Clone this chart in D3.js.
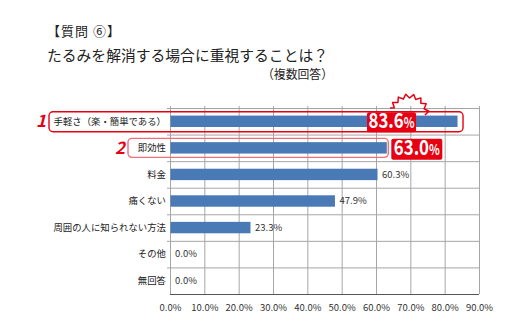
<!DOCTYPE html>
<html><head><meta charset="utf-8">
<script src="https://cdn.jsdelivr.net/npm/d3@7"></script>
<style>
body{margin:0;background:#fff;}
text{font-family:"Noto Sans CJK JP","Noto Sans",sans-serif;}
</style></head>
<body><svg id="c" width="530" height="330"></svg>
<script>
const titleLines = ["【質問 ⑥】","たるみを解消する場合に重視することは？","（複数回答）"];
const categories = ["手軽さ（楽・簡単である）","即効性","料金","痛くない","周囲の人に知られない方法","その他","無回答"];
const values = [83.6,63.0,60.3,47.9,23.3,0.0,0.0];
const valueLabels = ["83.6%","63.0%","60.3%","47.9%","23.3%","0.0%","0.0%"];
const tickValues = [0,10,20,30,40,50,60,70,80,90];
const tickLabels = ["0.0%","10.0%","20.0%","30.0%","40.0%","50.0%","60.0%","70.0%","80.0%","90.0%"];
const rankMarks = ["1","2"];

(function(){
const svg = d3.select("#c");
const red = "#e60012", barColor = "#4a7ab5", grid = "#a6a6a6";
const pL=170, pR=479, pT=108, pB=294;
const x = d3.scaleLinear().domain([0,90]).range([pL,pR]);
const y = d3.scaleBand().domain(categories).range([pT,pB]).paddingInner(0.57).paddingOuter(0.285);
const step = y.step();

// titles
svg.append("text").attr("x",47).attr("y",36).attr("font-size",13).attr("fill","#222")
  .attr("textLength",73).attr("lengthAdjust","spacing").text(titleLines[0]);
svg.append("text").attr("x",47).attr("y",61).attr("font-size",14.5).attr("fill","#222")
  .attr("textLength",281).attr("lengthAdjust","spacingAndGlyphs").text(titleLines[1]);
svg.append("text").attr("x",262).attr("y",79).attr("font-size",12.5).attr("fill","#222")
  .attr("textLength",71).attr("lengthAdjust","spacingAndGlyphs").text(titleLines[2]);

// horizontal gridlines
const g = svg.append("g");
d3.range(categories.length).forEach(i=>{
  g.append("line").attr("x1",pL-3).attr("x2",pR).attr("y1",pT+i*step+0.5).attr("y2",pT+i*step+0.5)
   .attr("stroke",grid).attr("stroke-width",1);
});
// vertical gridlines + axis labels
const axis = d3.axisBottom(x).tickValues(tickValues).tickFormat((d,i)=>tickLabels[i])
  .tickSize(-(pB-pT+2)).tickPadding(10);
const ax = svg.append("g").attr("transform",`translate(0,${pB})`).call(axis);
ax.select(".domain").remove();
ax.selectAll(".tick line").attr("stroke",grid);
ax.selectAll(".tick text").attr("font-size",9.5).attr("fill","#333").attr("font-family","'Noto Sans CJK JP',sans-serif");
svg.append("line").attr("x1",pL).attr("x2",pR).attr("y1",pB+0.5).attr("y2",pB+0.5).attr("stroke","#555");

// bars
svg.selectAll("rect.bar").data(values).join("rect").attr("class","bar")
  .attr("x",x(0)+0.5).attr("y",(d,i)=>y(categories[i]))
  .attr("width",d=>Math.max(0,x(d)-x(0))).attr("height",y.bandwidth()).attr("fill",barColor);

// category labels
svg.selectAll("text.cat").data(categories).join("text").attr("class","cat")
  .attr("x",166).attr("y",d=>y(d)+y.bandwidth()/2).attr("dy","0.35em")
  .attr("text-anchor","end").attr("font-size",9.4).attr("fill","#222").text(d=>d);

// value labels (non-highlighted)
values.forEach((v,i)=>{
  if(i<2) return;
  svg.append("text").attr("x",x(v)+5).attr("y",y(categories[i])+y.bandwidth()/2).attr("dy","0.35em")
    .attr("font-size",9.5).attr("fill","#333").text(valueLabels[i]);
});

// highlight outlines
const yc0 = y(categories[0])+y.bandwidth()/2, yc1 = y(categories[1])+y.bandwidth()/2;
svg.append("rect").attr("x",49).attr("y",yc0-9.5).attr("width",x(values[0])+6-49).attr("height",20)
  .attr("rx",4).attr("fill","none").attr("stroke",red).attr("stroke-width",1.4);
svg.append("rect").attr("x",128).attr("y",yc1-9.5).attr("width",x(values[1])+2-128).attr("height",19)
  .attr("rx",4).attr("fill","none").attr("stroke","#ee6f7a").attr("stroke-width",1.4);

// rank numbers
[[yc0,41],[yc1,120]].forEach((p,i)=>{
  svg.append("text").attr("x",p[1]).attr("y",p[0]).attr("dy","0.36em").attr("text-anchor","middle")
    .attr("font-size",17).attr("font-weight","bold").attr("font-style","italic").attr("fill",red)
    .attr("font-family","'Liberation Sans',Arial,sans-serif").text(rankMarks[i]);
});

// starburst above first highlight
const cx=409, cy=114;
const pts=[];
const a0=Math.PI*1.13, a1=Math.PI*2.02, n=14;
for(let k=0;k<=n;k++){
  const a=a0+(a1-a0)*k/n;
  const r=(k%2===0)?16:20;
  pts.push([cx+r*Math.cos(a), cy+r*Math.sin(a)]);
}
pts.unshift([cx-19,cy-6]);
svg.append("path").attr("d",d3.line()(pts)).attr("fill","none").attr("stroke",red)
  .attr("stroke-width",1.5).attr("stroke-linejoin","round");

// highlight value boxes
function valueBox(bx,by,w,h,num){
  svg.append("rect").attr("x",bx).attr("y",by).attr("width",w).attr("height",h).attr("rx",2).attr("fill",red);
  const gg=svg.append("g").attr("transform",`translate(${bx+w/2},${by+h/2}) scale(0.8,1)`);
  const t=gg.append("text").attr("x",0).attr("y",0).attr("dy","0.36em").attr("text-anchor","middle")
    .attr("fill","#fff").attr("font-weight","bold")
    .attr("font-family","'Liberation Sans Narrow','Arial Narrow','Liberation Sans',sans-serif");
  t.append("tspan").attr("font-size",21).text(num.replace("%",""));
  t.append("tspan").attr("font-size",14).text("%");
}
valueBox(x(values[0])-90, yc0-9, 49, 20, valueLabels[0]);
valueBox(x(values[1])+5, yc1-9, 51, 21, valueLabels[1]);
})();
</script></body></html>
